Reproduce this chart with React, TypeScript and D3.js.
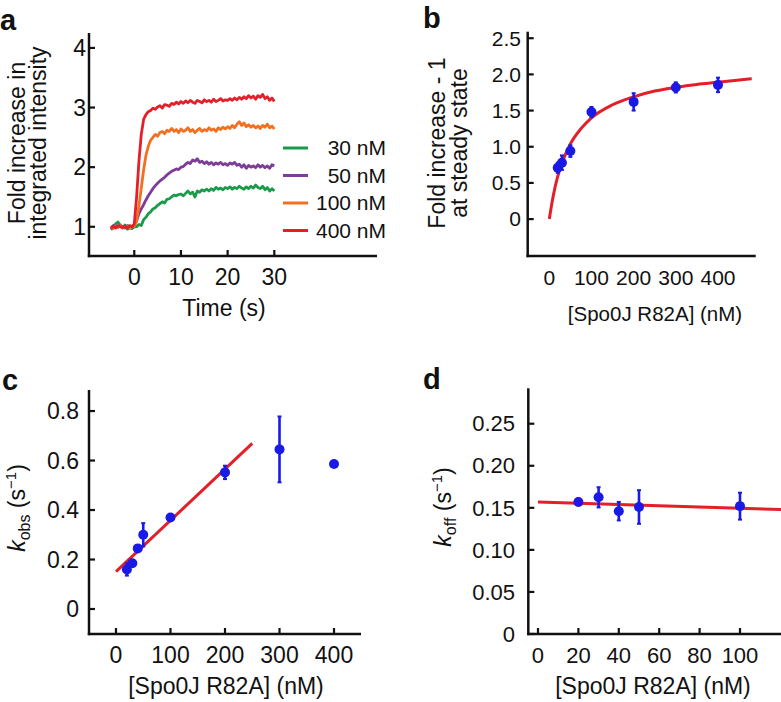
import React from "react";
import * as d3 from "d3";

// ---------- Panel a: time courses ----------
const timeStart = -5;
const timeStep = 0.5;
const trace30nM = [
  0.95, 1.0, 1.05, 1.08, 1.02, 0.98, 1.03, 0.96, 0.98, 0.97,
  1.0, 1.0, 1.04, 1.02, 1.12, 1.16, 1.22, 1.25, 1.3, 1.32,
  1.36, 1.39, 1.42, 1.4, 1.46, 1.47, 1.5, 1.53, 1.52, 1.54,
  1.55, 1.52, 1.56, 1.6, 1.55, 1.58, 1.5, 1.6, 1.58, 1.62,
  1.6, 1.63, 1.6, 1.64, 1.61, 1.66, 1.63, 1.65, 1.62, 1.66,
  1.64, 1.67, 1.63, 1.66, 1.64, 1.68, 1.65, 1.63, 1.67, 1.64,
  1.68, 1.65, 1.7, 1.66, 1.64, 1.68, 1.62, 1.66, 1.6, 1.64,
  1.6,
];
const trace50nM = [
  0.98, 1.02, 1.0, 0.99, 1.03, 1.0, 0.98, 1.02, 1.0, 1.01,
  1.02, 1.1, 1.22, 1.3, 1.37, 1.45, 1.52, 1.58, 1.64, 1.69,
  1.73, 1.77, 1.8, 1.83, 1.87, 1.9, 1.93, 1.95, 1.97, 1.96,
  2.0, 2.01, 2.05, 2.08, 2.06, 2.12, 2.1, 2.14, 2.08, 2.1,
  2.06, 2.09, 2.05, 2.08, 2.04, 2.07, 2.05, 2.08, 2.04, 2.06,
  2.03, 2.07, 2.05, 2.08, 2.03, 2.05, 2.0, 2.04, 1.98, 2.03,
  2.0, 2.02, 1.99, 2.04, 2.0, 2.03, 1.99, 2.02, 1.98, 2.04,
  2.02,
];
const trace100nM = [
  1.0, 0.97, 1.01, 0.99, 1.02, 0.98, 1.0, 1.01, 0.98, 1.0,
  1.01, 1.1, 1.35, 1.65, 1.95, 2.2, 2.35, 2.45, 2.5, 2.55,
  2.52, 2.58, 2.6, 2.56, 2.62, 2.6, 2.65, 2.6, 2.63, 2.58,
  2.64, 2.6, 2.62, 2.66, 2.6, 2.63, 2.58, 2.62, 2.65, 2.6,
  2.63, 2.61, 2.66, 2.62, 2.64, 2.6, 2.66, 2.63, 2.67, 2.64,
  2.68, 2.65, 2.7, 2.66, 2.72, 2.76, 2.7, 2.74, 2.68, 2.71,
  2.67, 2.7, 2.66, 2.69, 2.65, 2.7, 2.67, 2.72, 2.66, 2.69,
  2.64,
];
const trace400nM = [
  0.97, 1.01, 0.98, 1.02, 1.0, 0.99, 1.01, 0.98, 1.02, 1.0,
  1.05, 1.5, 2.1, 2.55, 2.8, 2.88, 2.93, 2.95, 2.99, 2.97,
  3.01, 3.03, 2.99, 3.05, 3.04, 3.02, 3.07, 3.05, 3.09, 3.06,
  3.1, 3.07, 3.11, 3.08, 3.12, 3.09, 3.07, 3.12, 3.1, 3.08,
  3.13, 3.1, 3.12, 3.09, 3.14, 3.1, 3.12, 3.15, 3.11, 3.13,
  3.12, 3.15, 3.12, 3.16, 3.13, 3.17, 3.14, 3.18, 3.15, 3.2,
  3.16, 3.19, 3.14, 3.2, 3.17, 3.22, 3.15, 3.18, 3.12, 3.16,
  3.1,
];
const legendLabels = ["30 nM", "50 nM", "100 nM", "400 nM"];
const traceColors = ["#1a9b4a", "#7d3c98", "#f37021", "#e3202a"];
const aXTicks = [0, 10, 20, 30];
const aYTicks = [1, 2, 3, 4];

// ---------- Panel b: steady state ----------
const bConc = [20, 30, 50, 100, 200, 300, 400];
const bFold = [0.71, 0.78, 0.94, 1.48, 1.62, 1.82, 1.855];
const bErr = [0.07, 0.1, 0.08, 0.07, 0.12, 0.07, 0.1];
const bFitX = [0, 5, 10, 20, 30, 40, 50, 75, 100, 150, 200, 250, 300, 350, 400, 480];
const bFitY = [0, 0.18, 0.34, 0.59, 0.77, 0.92, 1.04, 1.25, 1.4, 1.58, 1.69, 1.77, 1.82, 1.86, 1.89, 1.94];
const bXTicks = [0, 100, 200, 300, 400];
const bYTicks = [0, 0.5, 1.0, 1.5, 2.0, 2.5];

// ---------- Panel c: k_obs ----------
const cConc = [20, 30, 40, 50, 100, 200, 300, 400];
const cKobs = [0.16, 0.185, 0.245, 0.3, 0.37, 0.552, 0.645, 0.586];
const cErr = [0.025, 0.012, 0.01, 0.047, 0.01, 0.027, 0.133, 0.008];
const cFitX = [0, 250];
const cFitY = [0.151, 0.669];
const cXTicks = [0, 100, 200, 300, 400];
const cYTicks = [0, 0.2, 0.4, 0.6, 0.8];

// ---------- Panel d: k_off ----------
const dConc = [20, 30, 40, 50, 100];
const dKoff = [0.157, 0.1625, 0.146, 0.151, 0.152];
const dErr = [0.004, 0.012, 0.011, 0.02, 0.016];
const dFitX = [0, 122];
const dFitY = [0.157, 0.1478];
const dXTicks = [0, 20, 40, 60, 80, 100];
const dYTicks = [0, 0.05, 0.1, 0.15, 0.2, 0.25];

const FONT = "'Liberation Sans', Arial, Helvetica, sans-serif";
const INK = "#111";
const BLUE = "#1a1ae6";
const RED = "#e3202a";

type Lin = d3.ScaleLinear<number, number>;

function Frame(props: {
  x: Lin; y: Lin; xTicks: number[]; yTicks: number[];
  yFmt: (v: number) => string; fs: number; yLabRight: number; xLabBase: number;
  showXTicks: boolean;
}) {
  const { x, y, xTicks, yTicks, yFmt, fs, yLabRight, xLabBase, showXTicks } = props;
  const [x0, x1] = x.range();
  const [y0, y1] = y.range();
  return (
    <g>
      <line x1={x0} x2={x0} y1={y1} y2={y0 + 1.2} stroke={INK} strokeWidth={2.5} />
      <line x1={x0 - 1.2} x2={x1} y1={y0} y2={y0} stroke={INK} strokeWidth={2.5} />
      {yTicks.map((v) => (
        <g key={"y" + v}>
          <line x1={x0} x2={x0 + 6} y1={y(v)} y2={y(v)} stroke={INK} strokeWidth={2.2} />
          <text x={yLabRight} y={y(v)} dy="0.35em" textAnchor="end" fontSize={fs} fill={INK}>
            {yFmt(v)}
          </text>
        </g>
      ))}
      {xTicks.map((v) => (
        <g key={"x" + v}>
          {showXTicks && (
            <line x1={x(v)} x2={x(v)} y1={y0} y2={y0 - 6} stroke={INK} strokeWidth={2.2} />
          )}
          <text x={x(v)} y={xLabBase} textAnchor="middle" fontSize={fs} fill={INK}>
            {String(v)}
          </text>
        </g>
      ))}
    </g>
  );
}

function ErrPoints(props: { x: Lin; y: Lin; xs: number[]; ys: number[]; es: number[] }) {
  const { x, y, xs, ys, es } = props;
  return (
    <g>
      {xs.map((xv, i) => (
        <g key={i}>
          <line x1={x(xv)} x2={x(xv)} y1={y(ys[i] - es[i])} y2={y(ys[i] + es[i])} stroke={BLUE} strokeWidth={2.6} />
          <line x1={x(xv) - 2} x2={x(xv) + 2} y1={y(ys[i] + es[i])} y2={y(ys[i] + es[i])} stroke={BLUE} strokeWidth={2} />
          <line x1={x(xv) - 2} x2={x(xv) + 2} y1={y(ys[i] - es[i])} y2={y(ys[i] - es[i])} stroke={BLUE} strokeWidth={2} />
          <circle cx={x(xv)} cy={y(ys[i])} r={5} fill={BLUE} />
        </g>
      ))}
    </g>
  );
}

export default function App() {
  // panel a
  const xA = d3.scaleLinear().domain([-9.7, 52]).range([89, 377]);
  const yA = d3.scaleLinear().domain([0.51, 4.25]).range([256, 33]);
  const times = trace30nM.map((_, i) => timeStart + i * timeStep);
  const traces = [trace30nM, trace50nM, trace100nM, trace400nM];
  const lineA = d3.line<number>().x((_, i) => xA(times[i])).y((v) => yA(v));
  const legendY = [148, 175.5, 203, 230.5];

  // panel b
  const xB = d3.scaleLinear().domain([-51.2, 489.4]).range([527.7, 755.7]);
  const yB = d3.scaleLinear().domain([-0.51, 2.59]).range([256, 31.7]);
  const lineB = d3.line<number>().x((v) => xB(v)).y((_, i) => yB(bFitY[i])).curve(d3.curveMonotoneX);

  // panel c
  const xC = d3.scaleLinear().domain([-49.5, 449.5]).range([89, 361]);
  const yC = d3.scaleLinear().domain([-0.101, 0.885]).range([634, 390]);

  // panel d
  const xD = d3.scaleLinear().domain([-4.8, 120.3]).range([528.3, 781]);
  const yD = d3.scaleLinear().domain([0, 0.2921]).range([634, 388.3]);

  const fmt1 = (v: number) => (v === 0 ? "0" : v.toFixed(1));
  const fmt2 = (v: number) => (v === 0 ? "0" : v.toFixed(2));

  return (
    <svg width={781} height={702} style={{ position: "absolute", left: 0, top: 0, background: "#fff" }}
      fontFamily={FONT}>
      <rect width={781} height={702} fill="#fff" />
      {/* panel letters */}
      <text x={0} y={30} fontSize={29} fontWeight="bold" fill={INK}>a</text>
      <text x={423} y={28} fontSize={29} fontWeight="bold" fill={INK}>b</text>
      <text x={2} y={390} fontSize={29} fontWeight="bold" fill={INK}>c</text>
      <text x={423} y={389} fontSize={29} fontWeight="bold" fill={INK}>d</text>

      {/* ---------------- a ---------------- */}
      <Frame x={xA} y={yA} xTicks={aXTicks} yTicks={aYTicks} yFmt={(v) => String(v)} fs={23}
        yLabRight={86} xLabBase={285} showXTicks={true} />
      {traces.map((tr, k) => (
        <path key={k} d={lineA(tr) || ""} fill="none" stroke={traceColors[k]} strokeWidth={2.8} strokeLinejoin="round" />
      ))}
      {legendLabels.map((lab, k) => (
        <g key={lab}>
          <line x1={283} x2={308} y1={legendY[k]} y2={legendY[k]} stroke={traceColors[k]} strokeWidth={3} />
          <text x={386} y={legendY[k]} dy="0.35em" textAnchor="end" fontSize={21} fill={INK}>{lab}</text>
        </g>
      ))}
      <text transform="translate(25,143) rotate(-90)" textAnchor="middle" fontSize={23} fill={INK}>Fold increase in</text>
      <text transform="translate(46,143) rotate(-90)" textAnchor="middle" fontSize={23} fill={INK}>integrated intensity</text>
      <text x={224} y={316} textAnchor="middle" fontSize={23} fill={INK}>Time (s)</text>

      {/* ---------------- b ---------------- */}
      <Frame x={xB} y={yB} xTicks={bXTicks} yTicks={bYTicks} yFmt={fmt1} fs={21}
        yLabRight={521} xLabBase={285} showXTicks={false} />
      <path d={lineB(bFitX) || ""} fill="none" stroke={RED} strokeWidth={3} />
      <ErrPoints x={xB} y={yB} xs={bConc} ys={bFold} es={bErr} />
      <text transform="translate(445,143) rotate(-90)" textAnchor="middle" fontSize={23} fill={INK}>Fold increase - 1</text>
      <text transform="translate(467,143) rotate(-90)" textAnchor="middle" fontSize={23} fill={INK}>at steady state</text>
      <text x={655} y={321} textAnchor="middle" fontSize={20.5} fill={INK}>[Spo0J R82A] (nM)</text>

      {/* ---------------- c ---------------- */}
      <Frame x={xC} y={yC} xTicks={cXTicks} yTicks={cYTicks} yFmt={fmt1} fs={23}
        yLabRight={79} xLabBase={663} showXTicks={true} />
      <line x1={xC(cFitX[0])} y1={yC(cFitY[0])} x2={xC(cFitX[1])} y2={yC(cFitY[1])} stroke={RED} strokeWidth={3} />
      <ErrPoints x={xC} y={yC} xs={cConc} ys={cKobs} es={cErr} />
      <text transform="translate(25,508) rotate(-90)" textAnchor="middle" fontSize={23} fill={INK}>
        <tspan fontStyle="italic">k</tspan>
        <tspan fontSize={16} dy={5}>obs</tspan>
        <tspan dy={-5}> (s</tspan>
        <tspan fontSize={15} dy={-9}>−1</tspan>
        <tspan dy={9}>)</tspan>
      </text>
      <text x={226} y={694} textAnchor="middle" fontSize={23} fill={INK}>[Spo0J R82A] (nM)</text>

      {/* ---------------- d ---------------- */}
      <Frame x={xD} y={yD} xTicks={dXTicks} yTicks={dYTicks} yFmt={fmt2} fs={22}
        yLabRight={515} xLabBase={663} showXTicks={true} />
      <line x1={xD(dFitX[0])} y1={yD(dFitY[0])} x2={xD(dFitX[1])} y2={yD(dFitY[1])} stroke={RED} strokeWidth={3} />
      <ErrPoints x={xD} y={yD} xs={dConc} ys={dKoff} es={dErr} />
      <text transform="translate(451,507) rotate(-90)" textAnchor="middle" fontSize={23} fill={INK}>
        <tspan fontStyle="italic">k</tspan>
        <tspan fontSize={16} dy={5}>off</tspan>
        <tspan dy={-5}> (s</tspan>
        <tspan fontSize={15} dy={-9}>−1</tspan>
        <tspan dy={9}>)</tspan>
      </text>
      <text x={653} y={694} textAnchor="middle" fontSize={23} fill={INK}>[Spo0J R82A] (nM)</text>
    </svg>
  );
}
